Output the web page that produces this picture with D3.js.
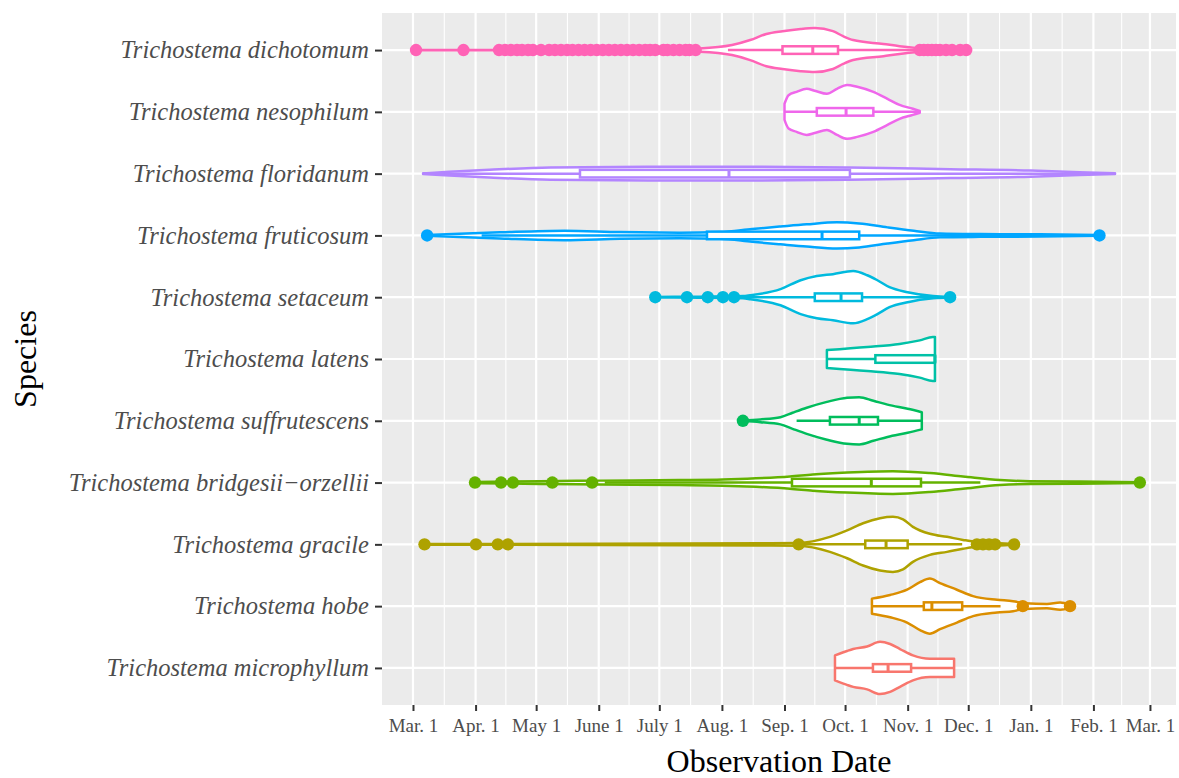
<!DOCTYPE html>
<html>
<head>
<meta charset="utf-8">
<script src="https://cdn.jsdelivr.net/npm/d3@7"></script>
<style>
body { margin: 0; background: #fff; }
text { font-family: "Liberation Serif", "DejaVu Serif", serif; }
</style>
</head>
<body>
<svg></svg>
<script>
// days counted from Mar. 1 (= 0)
const species = [
	'Trichostema dichotomum',
	'Trichostema nesophilum',
	'Trichostema floridanum',
	'Trichostema fruticosum',
	'Trichostema setaceum',
	'Trichostema latens',
	'Trichostema suffrutescens',
	'Trichostema bridgesii\u2212orzellii',
	'Trichostema gracile',
	'Trichostema hobe',
	'Trichostema microphyllum'
];

const tickDays = [0, 31, 61, 92, 122, 153, 184, 214, 245, 275, 306, 337, 365];
const tickLabels = ['Mar. 1', 'Apr. 1', 'May 1', 'June 1', 'July 1', 'Aug. 1', 'Sep. 1',
	'Oct. 1', 'Nov. 1', 'Dec. 1', 'Jan. 1', 'Feb. 1', 'Mar. 1'];

// violin profiles: [day, relative density]
const dichotomumDensity = [[1.5,0.3],[40,0.5],[92,0.8],[117,2],[142,6],[158,18],[167,36],[175,58],[183,68],[192,76],[199,79],[208,68],[213,50],[218,36],[233,22],[241,14],[250,7],[258,3],[275,0.3]];
const nesophilumDensity = [[184,29],[186,60],[190,72],[195,83],[199,76],[205,65],[210,83],[215,97],[220,90],[228,72],[235,47],[241,25],[247.6,11],[251,3]];
const floridanumDensity = [[5,1],[18,7],[38,14],[68,22],[117,25],[167,25],[216,22],[266,16],[306,11],[330,5],[347.7,1]];
const fruticosumDensity = [[7,1.5],[23,6],[43,11],[75,17],[102.5,12],[132,10],[152,12],[168,23],[182,32],[195,40],[210,47],[221,43],[235,29],[248,17],[261,7],[281,5],[310.5,4],[340,1.5]];
const setaceumDensity = [[120,1],[142,2],[163.4,4],[167,7],[182,29],[192,61],[200,76],[208,83],[218,94],[225,79],[230,61],[236,36],[245,18],[257.6,4],[266,1]];
const latensDensity = [[205,32],[225,43],[241,54],[251,67],[257.5,79],[258.5,79]];
const suffrutescensDensity = [[163.4,1],[172,5],[182,13],[188,29],[195,47],[205,68],[215,83],[221,85],[228,72],[235,58],[245,43],[252,31]];
const bridgesiiDensity = [[30.7,2],[63,5],[92.6,7],[132,9],[153.5,11],[165.4,14],[186.7,22],[198,29],[215,36],[237.7,41],[256,34],[272.4,22],[290.7,9],[305.6,5],[330,4],[360,1.5]];
const gracileDensity = [[5.7,1],[92.6,2],[171.8,4],[191,5],[206.5,27],[215,50],[222.9,76],[231.3,94],[237.7,99],[242.7,90],[247.6,63],[256,38],[264.5,27],[272.4,16],[280.8,7],[290.7,4],[297.7,1]];
const hobeDensity = [[227.3,27],[236.3,40],[244.7,59],[251.1,86],[256,99],[261,83],[269.4,59],[277.4,36],[289.3,23],[297.2,18],[303.1,10],[314,8],[320.5,13],[324.4,7],[325.4,2]];
const microphyllumDensity = [[209,45],[215,61],[218,68],[224.9,77],[231.3,94],[236.3,86],[241.2,68],[247.6,45],[256,33],[268,33]];

const densities = [dichotomumDensity, nesophilumDensity, floridanumDensity, fruticosumDensity,
	setaceumDensity, latensDensity, suffrutescensDensity, bridgesiiDensity, gracileDensity,
	hobeDensity, microphyllumDensity];

// [lower whisker, q1, median, q3, upper whisker]
const boxStats = [
	[156, 183, 198, 210.5, 250],
	[184, 200, 214.5, 228, 251],
	[5, 82.7, 156.5, 216.4, 347.7],
	[34, 145.6, 202.6, 221, 330],
	[164, 199, 212, 222.4, 257.6],
	[205, 229, 258.5, 258.5, 258.5],
	[190, 206.5, 221, 230.3, 252],
	[95, 187.7, 227, 251.6, 281],
	[193, 224, 234.3, 245, 272],
	[227.3, 253, 257, 272, 291],
	[209, 227.8, 235.3, 246.7, 268]
];

const outliers = [
	[1.5, 25, 42.6, 45.6, 48.5, 51.5, 54, 57, 59.4, 63.4, 67.4, 70.3, 73.3, 76.3, 79, 82, 85, 88, 91, 94, 97, 100, 103, 106, 109, 112, 115, 117.4, 120, 124, 126, 129, 132, 135, 137, 140,
		251, 253, 255, 257, 259, 261, 264, 267, 271, 274],
	[],
	[],
	[7, 340],
	[120, 135.7, 146, 153.5, 159, 266],
	[],
	[163.4],
	[30.7, 43.6, 49.5, 69, 88.7, 360],
	[5.7, 31.2, 42, 47, 191, 279.3, 282.3, 285.3, 288.3, 297.7],
	[302, 325.4],
	[]
];

const palette = ['#FF63B6', '#EF67EB', '#B385FF', '#00A6FF', '#00BADE', '#00C1A7',
	'#00BD5C', '#64B200', '#AEA200', '#DB8E00', '#F8766D'];

const width = 1179;
const height = 778;
const panel = {left: 382, right: 1176, top: 13, bottom: 705};
const serif = '"Liberation Serif", "DejaVu Serif", serif';

const svg = d3.select('svg')
	.attr('width', width)
	.attr('height', height);

const x = d3.scaleLinear()
	.domain([-15.35, 377.9])
	.range([panel.left, panel.right]);

const y = d3.scalePoint()
	.domain(species)
	.range([panel.top, panel.bottom])
	.padding(0.6);

const color = d3.scaleOrdinal().domain(species).range(palette);

const halfWidth = d3.scaleLinear()
	.domain([0, 100])
	.range([0, y.step() * 0.45]);

// panel background + grid
svg.append('rect')
	.attr('x', panel.left)
	.attr('y', panel.top)
	.attr('width', panel.right - panel.left)
	.attr('height', panel.bottom - panel.top)
	.attr('fill', '#EBEBEB');

const minorDays = d3.pairs(tickDays).map(p => (p[0] + p[1]) / 2);

svg.append('g').selectAll('line')
	.data(minorDays)
	.enter()
	.append('line')
	.attr('x1', d => x(d)).attr('x2', d => x(d))
	.attr('y1', panel.top).attr('y2', panel.bottom)
	.attr('stroke', '#fff')
	.attr('stroke-width', 1.1);

svg.append('g').selectAll('line')
	.data(tickDays)
	.enter()
	.append('line')
	.attr('x1', d => x(d)).attr('x2', d => x(d))
	.attr('y1', panel.top).attr('y2', panel.bottom)
	.attr('stroke', '#fff')
	.attr('stroke-width', 2.2);

svg.append('g').selectAll('line')
	.data(species)
	.enter()
	.append('line')
	.attr('x1', panel.left).attr('x2', panel.right)
	.attr('y1', d => y(d)).attr('y2', d => y(d))
	.attr('stroke', '#fff')
	.attr('stroke-width', 2.2);

// violins
const violinArea = (cy) => d3.area()
	.x(d => x(d[0]))
	.y0(d => cy - halfWidth(d[1]))
	.y1(d => cy + halfWidth(d[1]))
	.curve(d3.curveMonotoneX);

svg.append('g').selectAll('path')
	.data(species)
	.enter()
	.append('path')
	.attr('d', (s, i) => violinArea(y(s))(densities[i]))
	.attr('fill', '#fff')
	.attr('stroke', s => color(s))
	.attr('stroke-width', 2.5)
	.attr('stroke-linejoin', 'round');

// boxplots
const boxH = 3.8;
const boxes = svg.append('g').selectAll('g')
	.data(species)
	.enter()
	.append('g')
	.attr('stroke', s => color(s))
	.attr('stroke-width', 2.5);

boxes.append('line')
	.attr('x1', (s, i) => x(boxStats[i][0]))
	.attr('x2', (s, i) => x(boxStats[i][1]))
	.attr('y1', s => y(s)).attr('y2', s => y(s));

boxes.append('line')
	.attr('x1', (s, i) => x(boxStats[i][3]))
	.attr('x2', (s, i) => x(boxStats[i][4]))
	.attr('y1', s => y(s)).attr('y2', s => y(s));

boxes.append('rect')
	.attr('x', (s, i) => x(boxStats[i][1]))
	.attr('width', (s, i) => x(boxStats[i][3]) - x(boxStats[i][1]))
	.attr('y', s => y(s) - boxH)
	.attr('height', boxH * 2)
	.attr('fill', '#fff');

boxes.append('line')
	.attr('x1', (s, i) => x(boxStats[i][2]))
	.attr('x2', (s, i) => x(boxStats[i][2]))
	.attr('y1', s => y(s) - boxH).attr('y2', s => y(s) + boxH)
	.attr('stroke-width', 3);

boxes.each(function (s, i) {
	d3.select(this).selectAll('circle')
		.data(outliers[i])
		.enter()
		.append('circle')
		.attr('cx', d => x(d))
		.attr('cy', y(s))
		.attr('r', 6.2)
		.attr('fill', color(s))
		.attr('stroke', 'none');
});

// axes
const xAxis = svg.append('g')
	.attr('transform', `translate(0,${panel.bottom})`)
	.call(d3.axisBottom(x)
		.tickValues(tickDays)
		.tickFormat((d, i) => tickLabels[i])
		.tickSize(6)
		.tickPadding(8))
	.attr('font-family', serif);
xAxis.select('.domain').remove();
xAxis.selectAll('line').attr('stroke', '#333').attr('stroke-width', 2);
xAxis.selectAll('text')
	.attr('font-size', 19)
	.attr('fill', '#4D4D4D')
	.style('font-family', serif);

const yAxis = svg.append('g')
	.attr('transform', `translate(${panel.left},0)`)
	.call(d3.axisLeft(y).tickSize(7).tickPadding(6))
	.attr('font-family', serif);
yAxis.select('.domain').remove();
yAxis.selectAll('line').attr('stroke', '#333').attr('stroke-width', 2);
yAxis.selectAll('text')
	.attr('font-size', 24.5)
	.attr('fill', '#4D4D4D')
	.style('font-family', serif)
	.style('font-style', 'italic');

svg.append('text')
	.attr('x', (panel.left + panel.right) / 2)
	.attr('y', 772)
	.attr('text-anchor', 'middle')
	.attr('font-size', 32)
	.attr('fill', '#000')
	.text('Observation Date');

svg.append('text')
	.attr('transform', `translate(36,${(panel.top + panel.bottom) / 2}) rotate(-90)`)
	.attr('text-anchor', 'middle')
	.attr('font-size', 32)
	.attr('fill', '#000')
	.text('Species');
</script>
</body>
</html>
